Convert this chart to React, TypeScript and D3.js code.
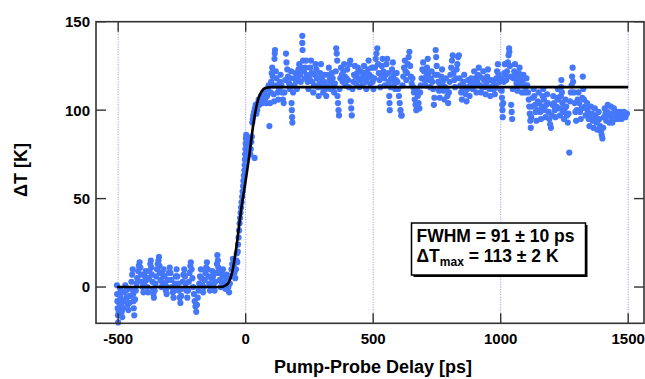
import React from "react";
import * as d3 from "d3";

// ---------- data (delay in ps, ΔT in K) ----------
const baselineData: [number, number][] = [
  [-505,1],[-504,-4],[-503,-8],[-502,-12],[-501,-16],[-500,-20],[-498,-14],[-496,-9],[-494,-4],[-492,-1],
  [-490,-6],[-488,-10],[-486,-14],[-484,-17],[-481,-12],[-478,-8],[-475,-3],[-472,1],[-469,-2],[-466,-6],
  [-463,-10],[-460,-13],[-457,-9],[-454,-5],[-451,-1],[-448,3],[-445,7],[-443,10],[-441,-4],[-440,-8],
  [-439,-12],[-437,-16],[-434,-7],[-431,-2],[-428,2],[-425,5],[-422,9],[-419,12],[-416,14],[-413,11],
  [-410,7],[-407,3],[-404,0],[-401,-3],[-398,2],[-395,6],[-392,9],[-389,4],[-386,0],[-383,-3],
  [-380,5],[-377,9],[-374,13],[-372,15],[-370,11],[-368,7],[-366,3],[-364,-1],[-362,-4],[-360,-6],
  [-357,-2],[-354,2],[-351,6],[-348,10],[-345,13],[-342,15],[-340,17],[-338,12],[-336,8],[-334,4],
  [-331,0],[-328,3],[-325,7],[-322,10],[-319,6],[-316,2],[-313,-2],[-310,-4],[-307,0],[-304,4],
  [-301,8],[-298,11],[-295,8],[-292,4],[-289,0],[-286,-3],[-283,-6],[-280,-2],[-277,2],[-274,6],
  [-271,10],[-268,6],[-265,2],[-262,-2],[-259,-6],[-256,-9],[-253,-5],[-250,-1],[-247,3],[-244,7],
  [-241,10],[-238,6],[-235,2],[-232,-2],[-229,-6],[-226,-2],[-223,3],[-220,8],[-217,12],[-215,14],
  [-212,10],[-209,5],[-206,0],[-203,-4],[-200,-8],[-197,-11],[-194,-14],[-191,-10],[-188,-6],[-185,-2],
  [-182,2],[-179,6],[-176,10],[-173,5],[-170,1],[-167,-3],[-164,0],[-161,4],[-158,8],[-155,11],
  [-152,14],[-149,10],[-146,6],[-143,2],[-140,-2],[-137,1],[-134,5],[-131,9],[-128,6],[-125,2],
  [-122,-2],[-119,3],[-116,8],[-113,13],[-111,18],[-109,15],[-107,11],[-104,8],[-101,4],[-98,0],
  [-95,3],[-92,7],[-89,10],[-86,6],[-83,2],[-80,-1],[-77,3],[-74,7],[-71,4],[-68,0],
  [-65,-3],[-62,2],[-59,6],[-56,10],[-53,13],[-50,16],[-47,12],[-44,8],[-41,5],[-38,10],
  [-36,15],[-35,19],
];

const riseData: [number, number][] = [
  [-33,14],[-31,20],[-30,24],[-28,28],[-26,32],[-24,36],[-22,39],[-20,42],[-18,45],[-16,48],
  [-14,51],[-12,54],[-10,57],[-9,60],[-7,63],[-5,66],[-4,69],[-3,72],[-2,75],[-1,78],
  [0,81],[1,84],[2,86],[3,82],[4,79],[5,76],[6,73],[8,77],[10,80],[12,84],
  [14,81],[16,78],[18,75],[20,78],[22,82],[24,85],[26,93],[28,95],[30,97],[33,99],
  [35,73],[36,101],[39,103],[42,98],[45,100],[48,104],[51,106],[54,103],[57,105],[60,108],
  [63,107],[66,104],[69,106],[72,109],[75,111],[78,107],[81,104],[84,108],[87,112],[90,114],
];

const plateauEarly: [number, number][] = [
  [93,91],[96,104],[98,110],[100,116],[102,121],[104,124],[106,119],[108,114],[110,109],[112,105],
  [113,129],[114,132],[115,134],[118,122],[120,118],[123,114],[126,110],[128,106],[131,112],[134,116],
  [137,120],[140,114],[143,110],[146,106],[149,104],[152,110],[155,117],[158,132],[160,127],[163,123],
  [166,119],[170,115],[173,112],[176,118],[178,122],[180,104],[181,100],[182,96],[183,93],[186,110],
  [189,114],[192,118],[195,121],[198,116],[201,112],[204,118],[207,123],[210,126],[213,120],[216,116],
  [219,124],[222,142],[222,138],[223,134],[225,128],[228,122],[231,118],[234,124],[237,128],[240,120],
  [243,116],[246,112],[250,118],[253,124],[256,128],[259,121],[262,116],[265,110],[268,114],[271,120],
  [274,126],[277,123],[280,118],[283,113],[286,108],[289,115],[292,121],[295,126],[298,118],[301,113],
  [304,110],[307,116],[310,120],[313,112],[316,108],[320,114],[323,120],[326,124],[329,117],[332,112],
  [335,116],[338,121],[341,118],[344,113],[347,110],[350,115],[353,122],[355,135],[357,132],[359,128],
  [360,108],[362,104],[364,100],[366,97],[368,112],[371,118],[374,124],[377,120],[380,116],[383,122],
  [386,126],[389,119],[392,114],[395,118],[398,123],[401,117],[404,113],[407,126],[410,128],[412,105],
  [414,101],[416,97],[419,112],[422,116],[425,120],[428,125],[431,119],[434,115],[437,121],[440,124],
  [443,118],[446,113],[449,117],[452,122],[455,118],[458,114],[461,120],[464,125],[467,121],[470,116],
  [473,112],[476,118],[479,123],[482,128],[485,120],[488,115],[491,119],[495,124],[498,116],[501,112],
  [504,118],[507,124],[510,129],[513,132],[516,135],[519,126],[522,121],[525,117],[528,113],[531,120],
  [534,125],[537,129],[540,122],[543,118],[546,114],[549,120],[552,126],[555,129],[558,121],[561,116],
  [563,108],[564,104],[565,100],[568,113],[571,118],[574,123],[577,127],[580,120],[583,115],[586,112],
  [589,117],[592,121],[595,116],[598,112],[601,108],[604,104],[607,100],[610,97],[612,97],[615,114],
  [618,119],[621,124],[624,128],[627,122],[630,117],[633,121],[636,126],[639,130],[642,133],[645,125],
  [648,119],[651,115],[654,118],[657,113],[660,110],[663,106],[666,103],[669,100],[672,112],[675,108],
  [678,104],[681,101],[684,110],[687,114],[690,118],[693,123],[696,127],[699,122],[702,117],[705,114],
  [708,119],[711,124],[714,129],[717,121],[720,117],[723,113],[726,118],[729,122],[732,116],[735,112],
  [738,103],[740,107],[743,120],[745,134],[747,130],[749,125],[752,120],[755,116],[758,111],[761,107],
  [764,114],[767,119],[770,123],[773,116],[776,111],[779,106],[782,113],[785,118],[788,112],[791,108],
  [794,104],[797,110],
];

const plateauLate: [number, number][] = [
  [800,116],[803,120],[806,124],[809,128],[812,131],[815,121],[818,117],[821,113],[824,118],[827,123],
  [830,126],[833,130],[836,131],[839,118],[842,114],[845,110],[848,106],[851,112],[854,116],[857,120],
  [860,113],[863,109],[866,105],[869,112],[872,117],[875,113],[878,108],[881,114],[884,118],[887,115],
  [890,112],[893,117],[896,122],[899,118],[902,114],[905,110],[908,116],[911,120],[914,124],[917,119],
  [920,114],[923,110],[926,113],[929,118],[932,122],[935,117],[938,113],[941,109],[944,115],[947,119],
  [950,123],[953,117],[956,112],[959,108],[962,113],[965,117],[968,112],[971,116],[974,112],[977,109],
  [980,114],[983,118],[986,122],[989,126],[992,120],[995,116],[998,112],[1001,118],[1004,111],[1005,107],
  [1006,103],[1007,100],[1008,96],[1010,104],[1012,116],[1014,121],[1016,126],[1019,120],[1022,117],[1025,122],
  [1028,127],[1031,131],[1033,135],[1034,133],[1036,125],[1039,119],[1041,103],[1043,99],[1045,95],[1047,112],
  [1050,118],[1053,122],[1056,126],[1059,120],[1062,115],[1065,111],[1068,117],[1071,121],[1074,124],[1077,118],
  [1080,114],[1083,110],[1086,116],[1089,120],[1092,114],[1095,110],[1098,113],[1101,118],[1104,114],[1107,110],
  [1110,106],[1112,102],[1114,98],[1116,94],[1118,90],[1120,96],[1123,102],[1126,107],[1129,112],[1132,108],
  [1135,103],[1137,99],[1140,94],[1143,100],[1146,105],[1149,110],[1152,104],[1155,99],[1158,95],[1161,102],
  [1164,108],[1167,112],[1170,106],[1173,100],[1176,96],[1179,103],[1182,109],[1185,104],[1188,99],[1191,95],
  [1194,92],[1197,90],[1200,97],[1203,103],[1206,108],[1209,104],[1212,100],[1215,96],[1218,102],[1221,107],
  [1224,112],[1227,106],[1230,101],[1233,97],[1236,108],[1237,113],[1238,117],[1240,110],[1242,104],[1245,99],
  [1248,95],[1251,101],[1254,106],[1257,102],[1260,97],[1263,93],[1266,98],[1269,76],[1272,105],[1275,110],
  [1278,114],[1280,119],[1282,124],[1284,116],[1287,110],[1290,104],[1293,99],[1296,94],[1299,100],[1302,106],
  [1305,110],[1308,104],[1311,99],[1314,95],[1317,101],[1320,107],[1322,119],[1324,112],[1327,106],[1330,102],
  [1333,97],[1336,101],[1339,104],[1342,99],[1345,95],[1348,91],[1351,97],[1354,102],[1357,98],[1360,94],
  [1363,90],[1366,96],[1369,101],[1372,97],[1375,93],[1378,89],[1381,94],[1384,99],[1387,95],[1390,91],
  [1393,88],[1396,86],[1399,84],[1402,90],[1405,96],[1408,101],[1411,98],[1414,94],[1417,99],[1420,103],
  [1423,97],[1426,93],[1429,98],[1432,102],[1435,96],[1438,93],[1441,97],[1444,101],[1447,98],[1450,95],
  [1453,99],[1456,97],[1459,95],[1462,98],[1465,96],[1468,99],[1471,97],[1474,95],[1477,98],[1480,96],
  [1483,99],[1486,97],[1489,96],[1492,98],[1495,98],
];

// fit curve
const fitCurve: [number, number][] = [
  [-505,0],[-100,0],[-80,0.8],[-65,3],[-52,9],[-38,21],[-18,43.5],[-4,56.5],[12,72],[30,92],
  [45,104],[60,110],[80,112.7],[100,113],[1500,113],
];

const xTicks = [-500, 0, 500, 1000, 1500];
const yTicks = [0, 50, 100, 150];
const legendLines = ["FWHM = 91 ± 10 ps", "113 ± 2 K"];

export default function App() {
  const W = 645, H = 379;
  const left = 96, right = 644, top = 21.7, bottom = 323.3;
  const x = d3.scaleLinear().domain([-587, 1562]).range([left, right]);
  const y = d3.scaleLinear().domain([-20.5, 150]).range([bottom, top]);
  const allData = [...baselineData, ...riseData, ...plateauEarly, ...plateauLate];
  const line = d3.line<[number, number]>().x(d => x(d[0])).y(d => y(d[1])).curve(d3.curveMonotoneX);
  const font = "'Liberation Sans', Arial, Helvetica, sans-serif";
  const axisColor = "#333";
  const tickLen = 10;

  return (
    <svg width={W} height={H} style={{ position: "absolute", left: 0, top: 0, background: "#fff" }}
      fontFamily={font} fontWeight="bold">
      {/* dotted grid lines */}
      {xTicks.map(t => (
        <line key={"g" + t} x1={x(t)} x2={x(t)} y1={top} y2={bottom}
          stroke="#7070ff" strokeWidth={0.8} strokeDasharray="1,1.5" />
      ))}
      {/* data points */}
      <g fill="#4577fb">
        {allData.map((d, i) => (
          <circle key={i} cx={x(d[0])} cy={y(d[1])} r={3.1} />
        ))}
      </g>
      {/* fit */}
      <path d={line(fitCurve) || ""} fill="none" stroke="#000" strokeWidth={2.6} />
      {/* frame */}
      <rect x={left} y={top} width={right - left} height={bottom - top} fill="none"
        stroke={axisColor} strokeWidth={1.6} />
      {/* ticks */}
      {xTicks.map(t => (
        <g key={"xt" + t}>
          <line x1={x(t)} x2={x(t)} y1={bottom} y2={bottom - tickLen} stroke={axisColor} strokeWidth={1.4} />
          <line x1={x(t)} x2={x(t)} y1={top} y2={top + tickLen} stroke={axisColor} strokeWidth={1.4} />
          <text x={x(t)} y={344} textAnchor="middle" fontSize={15} fill="#000">{t}</text>
        </g>
      ))}
      {yTicks.map(t => (
        <g key={"yt" + t}>
          <line x1={left} x2={left + tickLen} y1={y(t)} y2={y(t)} stroke={axisColor} strokeWidth={1.4} />
          <line x1={right} x2={right - tickLen} y1={y(t)} y2={y(t)} stroke={axisColor} strokeWidth={1.4} />
          <text x={90} y={y(t)} dy="0.36em" textAnchor="end" fontSize={15} fill="#000">{t}</text>
        </g>
      ))}
      {/* axis titles */}
      <text transform="translate(27,170) rotate(-90)" textAnchor="middle" fontSize={18} fill="#000">ΔT [K]</text>
      <text x={373} y={373} textAnchor="middle" fontSize={18} fill="#000">Pump-Probe Delay [ps]</text>
      {/* legend box */}
      <rect x={413.5} y={225} width={174} height={52} fill="#000" />
      <rect x={411.5} y={223} width={174} height={52} fill="#fff" stroke="#000" strokeWidth={1.5} />
      <text x={416.5} y={242} fontSize={17.5} fill="#000">{legendLines[0]}</text>
      <text x={416.5} y={262} fontSize={17.5} fill="#000">
        ΔT<tspan fontSize={12} dy={4}>max</tspan><tspan dy={-4}>{" = " + legendLines[1]}</tspan>
      </text>
    </svg>
  );
}
